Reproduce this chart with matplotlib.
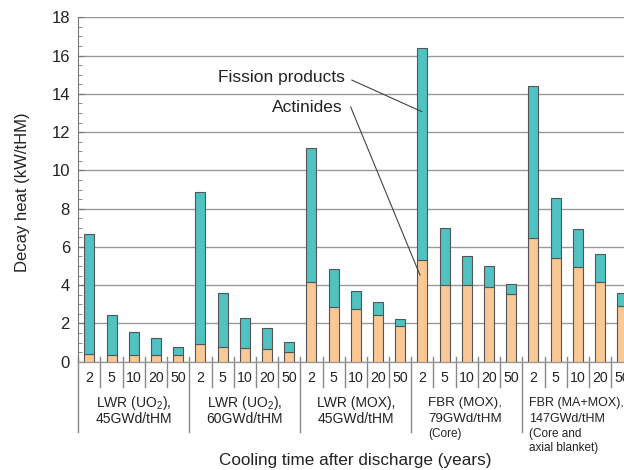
import matplotlib
matplotlib.use("Agg")
import matplotlib.pyplot as plt
import numpy as np

plt.rcParams['font.family'] = ['Liberation Sans', 'DejaVu Sans']
plt.rcParams['mathtext.fontset'] = 'custom'
plt.rcParams['mathtext.rm'] = 'Liberation Sans'

cooling_years = ["2", "5", "10", "20", "50"]
groups = [r"LWR (UO$_2$),", r"LWR (UO$_2$),", "LWR (MOX),", "FBR (MOX),", "FBR (MA+MOX),"]
groups_line2 = ["45GWd/tHM", "60GWd/tHM", "45GWd/tHM", "79GWd/tHM", "147GWd/tHM"]
groups_note = ["", "", "", "(Core)", "(Core and\naxial blanket)"]

total_heat = [6.70, 2.45, 1.56, 1.24, 0.77,
              8.85, 3.58, 2.26, 1.74, 1.04,
              11.15, 4.85, 3.69, 3.13, 2.23,
              16.42, 6.97, 5.53, 5.01, 4.07,
              14.42, 8.56, 6.92, 5.62, 3.58]
actinides = [0.42, 0.33, 0.33, 0.37, 0.33,
             0.94, 0.75, 0.73, 0.68, 0.52,
             4.19, 2.87, 2.73, 2.45, 1.88,
             5.32, 4.02, 4.02, 3.91, 3.53,
             6.49, 5.41, 4.94, 4.19, 2.89]
fission = [t - a for t, a in zip(total_heat, actinides)]

teal = '#4FC2C1'
orange = '#F9C895'
edge = '#555555'
txt = '#222222'

fig = plt.figure(figsize=(6.24, 4.70), dpi=100)
ax = fig.add_axes([78.3/624, 108.3/470, 555/624, 344.4/470])

x = np.arange(len(total_heat))
ax.bar(x, actinides, width=0.45, color=orange, edgecolor=edge, linewidth=0.8, zorder=3)
ax.bar(x, fission, bottom=actinides, width=0.45, color=teal, edgecolor=edge, linewidth=0.8, zorder=3)

ax.set_xlim(-0.5, 24.5)
ax.set_ylim(0, 18)
ax.set_yticks(np.arange(0, 19, 2))
ax.set_yticks(np.arange(0, 18.01, 0.5), minor=True)
ax.tick_params(axis='y', which='major', direction='in', length=4, color='#777777', labelsize=12, pad=6,
               labelcolor=txt)
ax.tick_params(axis='y', which='minor', direction='in', length=3, color='#777777')
ax.set_xticks([])
ax.yaxis.grid(True, which='major', color='#999999', linewidth=1.0, zorder=0)
ax.set_axisbelow(True)
for s in ['top', 'right']:
    ax.spines[s].set_visible(False)
ax.spines['left'].set_color('#777777')
ax.spines['bottom'].set_color('#999999')
ax.spines['bottom'].set_linewidth(1.0)

trans = ax.get_xaxis_transform()
hpx = 344.4
for i in range(len(total_heat)):
    xs = i - 0.5
    if i % 5 == 0:
        ax.plot([xs, xs], [5/hpx, -70/hpx], transform=trans, color='#888888', lw=1.0, clip_on=False)
    else:
        ax.plot([xs, xs], [5/hpx, -25/hpx], transform=trans, color='#888888', lw=1.0, clip_on=False)
    ax.text(i, -16.5/hpx, cooling_years[i % 5], transform=trans, ha='center', va='center', fontsize=10.2, color=txt)

for g in range(5):
    if g < 3:
        cx = g*5 + 2
        ha = 'center'
        fs = 10
    else:
        cx = g*5 - 0.5 + (17/22.2 if g == 3 else 7/22.2)
        ha = 'left'
        fs = 9.6 if g == 3 else 9.0
    ax.text(cx, -41.5/hpx, groups[g], transform=trans, ha=ha, va='center', fontsize=fs, color=txt)
    ax.text(cx, -57.5/hpx, groups_line2[g], transform=trans, ha=ha, va='center', fontsize=fs, color=txt)
    if groups_note[g]:
        ax.text(cx, -66/hpx, groups_note[g], transform=trans, ha='left', va='top', fontsize=8.5,
                color=txt, linespacing=1.3)

fig.text(22.5/624, 1 - 192/470, "Decay heat (kW/tHM)", rotation=90, ha='center', va='center', fontsize=12, color=txt)
fig.text(355/624, 1 - 461/470, "Cooling time after discharge (years)", ha='center', va='center', fontsize=12.3, color=txt)

ax.text(11.51, 14.83, "Fission products", ha='right', va='center', fontsize=12.5, color=txt)
ax.text(11.41, 13.31, "Actinides", ha='right', va='center', fontsize=12.5, color=txt)
ax.plot([11.82, 14.97], [14.72, 13.07], color='#444444', lw=0.8, zorder=5)
ax.plot([11.77, 14.89], [13.31, 4.53], color='#444444', lw=0.8, zorder=5)

fig.savefig("out.png", dpi=100)
